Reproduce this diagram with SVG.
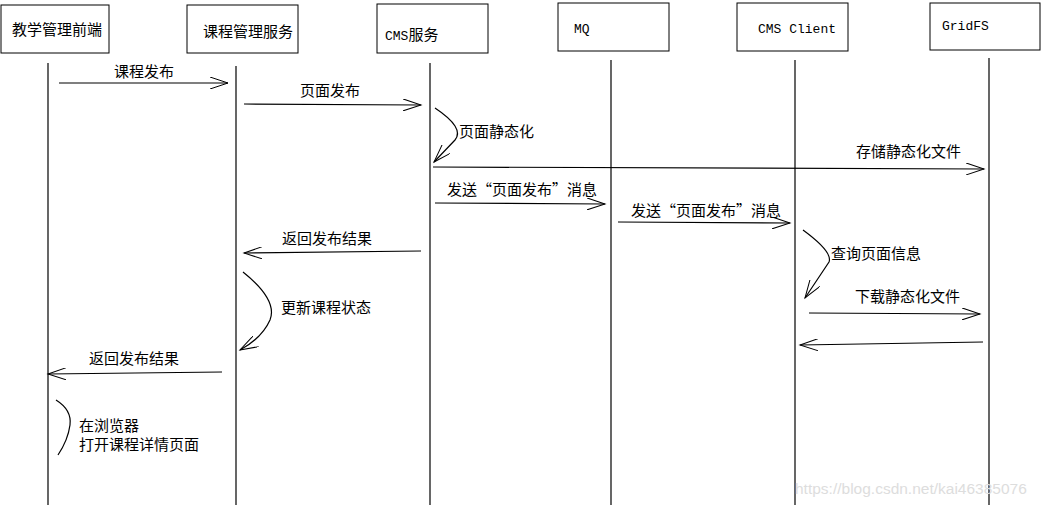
<svg xmlns="http://www.w3.org/2000/svg" width="1042" height="507" viewBox="0 0 1042 507">
<style>
.b{fill:#fff;stroke:#000;stroke-width:1}
.l{stroke:#000;stroke-width:1.2;fill:none}
.t{font-family:"Noto Sans CJK SC","Liberation Sans",sans-serif;font-size:15px;fill:#000}
.m{font-family:"Liberation Mono","Noto Sans CJK SC",monospace;font-size:13px;fill:#000}
</style>
<defs>
<marker id="a" markerWidth="20" markerHeight="12" refX="18" refY="6" orient="auto" markerUnits="userSpaceOnUse"><path d="M0,0 L18,6 L0,12" fill="none" stroke="#000"/></marker>
</defs>
<rect width="1042" height="507" fill="#fff"/>
<g id="n1"><rect class="b" x="1" y="5" width="108" height="48"/><text class="t" x="12" y="35">教学管理前端</text></g>
<g id="n2"><rect class="b" x="187" y="5" width="111" height="48"/><text class="t" x="203" y="37">课程管理服务</text></g>
<g id="n3"><rect class="b" x="377" y="4" width="111" height="49"/><text class="m" x="385" y="40">CMS<tspan class="t">服务</tspan></text></g>
<g id="n4"><rect class="b" x="558" y="3" width="111" height="48"/><text class="m" x="574" y="33">MQ</text></g>
<g id="n5"><rect class="b" x="737" y="3" width="111" height="48"/><text class="m" x="758" y="33">CMS Client</text></g>
<g id="n6"><rect class="b" x="930" y="3" width="110" height="47"/><text class="m" x="942" y="30">GridFS</text></g>
<g id="connectors">
<line class="l" x1="48" y1="63" x2="48" y2="505"/>
<line class="l" x1="236" y1="66" x2="236" y2="505"/>
<line class="l" x1="430" y1="63" x2="430" y2="505"/>
<line class="l" x1="611" y1="60" x2="611" y2="505"/>
<line class="l" x1="795" y1="60" x2="795" y2="505"/>
<line class="l" x1="989" y1="58" x2="989" y2="505"/>
<line class="l" x1="59" y1="83" x2="228" y2="83" marker-end="url(#a)"/>
<line class="l" x1="244" y1="104" x2="421" y2="105" marker-end="url(#a)"/>
<path class="l" d="M435,108 Q465,128 455,140 L434,162" marker-end="url(#a)"/>
<line class="l" x1="433" y1="167" x2="984" y2="169" marker-end="url(#a)"/>
<line class="l" x1="435" y1="203" x2="605" y2="204" marker-end="url(#a)"/>
<line class="l" x1="618" y1="222" x2="790" y2="223" marker-end="url(#a)"/>
<line class="l" x1="421" y1="251" x2="244" y2="253" marker-end="url(#a)"/>
<path class="l" d="M803,230 Q833,252 829,262 L805,298" marker-end="url(#a)"/>
<line class="l" x1="809" y1="313" x2="980" y2="314" marker-end="url(#a)"/>
<line class="l" x1="983" y1="342" x2="800" y2="345" marker-end="url(#a)"/>
<path class="l" d="M243,272 Q278,300 270,320 Q262,338 240,350" marker-end="url(#a)"/>
<line class="l" x1="222" y1="372" x2="48" y2="374" marker-end="url(#a)"/>
<path class="l" d="M56,400 Q72,410 70,425 Q68,440 58,455"/>
</g>
<text class="t" x="114" y="77">课程发布</text>
<text class="t" x="300" y="96">页面发布</text>
<text class="t" x="459" y="137">页面静态化</text>
<text class="t" x="856" y="157">存储静态化文件</text>
<text class="t" x="447" y="195">发送“页面发布”消息</text>
<text class="t" x="631" y="216">发送“页面发布”消息</text>
<text class="t" x="282" y="244">返回发布结果</text>
<text class="t" x="831" y="259">查询页面信息</text>
<text class="t" x="855" y="302">下载静态化文件</text>
<text class="t" x="281" y="313">更新课程状态</text>
<text class="t" x="89" y="364">返回发布结果</text>
<text class="t" x="79" y="431">在浏览器</text>
<text class="t" x="79" y="450">打开课程详情页面</text>
<text x="795" y="494" font-family="Liberation Sans,sans-serif" font-size="15.5" fill="#ddd">https://blog.csdn.net/kai46385076</text>
</svg>
